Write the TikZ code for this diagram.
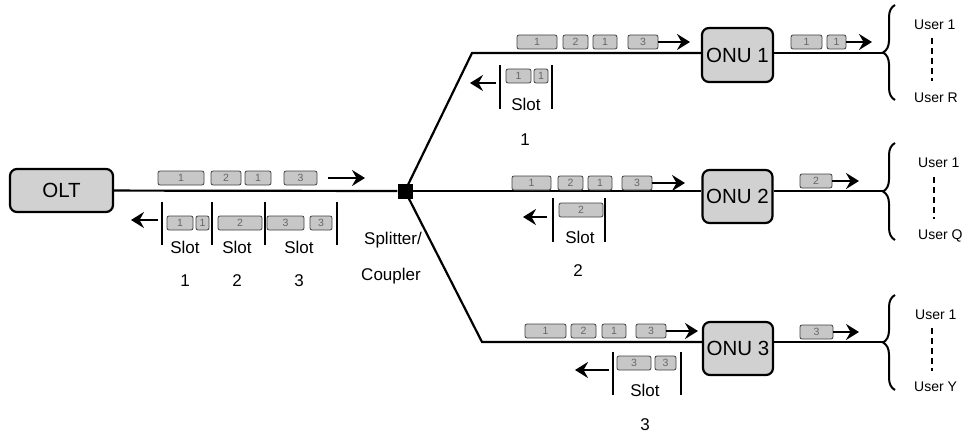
\documentclass[tikz,border=0pt]{standalone}
\usepackage{fontspec}
\setmainfont{Liberation Sans}
\usetikzlibrary{arrows.meta,decorations.pathreplacing}

\tikzset{
  unit/.style={draw, line width=2.2pt, rounded corners=7pt, fill=black!18,
    inner sep=0pt, font=\fontsize{20.5}{20.5}\selectfont},
  fiber/.style={line width=2.2pt},
  pkt/.style={draw=black!75, line width=0.8pt, rounded corners=2pt, fill=black!22,
    minimum height=14pt, inner sep=0pt, text=black!60,
    font=\fontsize{10.5}{10.5}\selectfont},
  slotbar/.style={line width=2.2pt},
  flow/.style={line width=2.2pt, -{Stealth[length=13pt,width=16pt,inset=4.5pt]}},
  lbl/.style={inner sep=0pt, font=\fontsize{17}{17}\selectfont},
  usr/.style={inner sep=0pt, anchor=west, font=\fontsize{14}{14}\selectfont},
  usrdash/.style={line width=2.8pt, dash pattern=on 6pt off 4pt},
  grp/.style={line width=2pt, decorate, decoration={brace, amplitude=12pt}}
}

\begin{document}
\begin{tikzpicture}[x=1pt,y=-1pt]
\useasboundingbox (0,0) rectangle (962,436);

% terminals
\node[unit, minimum width=103pt, minimum height=43pt] (olt) at (61.5,190.5) {OLT};
\node[unit, minimum width=71pt, minimum height=54pt] (onu1) at (737.5,55) {ONU 1};
\node[unit, minimum width=70pt, minimum height=53pt] (onu2) at (737.5,196.5) {ONU 2};
\node[unit, minimum width=70pt, minimum height=53pt] (onu3) at (738,348.5) {ONU 3};

% passive splitter
\node[fill=black, minimum size=15pt, inner sep=0pt] (sp) at (405,191) {};
\node[lbl] (spl) at (393,240) {Splitter/};
\node[lbl] (cpl) at (391,276) {Coupler};

% branch corners and brace tips
\coordinate (c1) at (472,53);
\coordinate (c3) at (482,342);
\coordinate (t1) at (883,53);
\coordinate (t2) at (883,191);
\coordinate (t3) at (883,342);

% fibres
\draw[fiber] (olt) -- (sp);
\draw[fiber] (sp.center) -- (c1) -- (c1 -| onu1.west);
\draw[fiber] (sp) -- (sp -| onu2.west);
\draw[fiber] (sp.center) -- (c3) -- (c3 -| onu3.west);
\draw[fiber] (c1 -| onu1.east) -- (t1);
\draw[fiber] (t2 -| onu2.east) -- (t2);
\draw[fiber] (c3 -| onu3.east) -- (t3);

% ---- feeder: downstream frame
\node[pkt, minimum width=46pt] (m1) at (181,178) {1};
\node[pkt, minimum width=30pt] (m2) at (226,178) {2};
\node[pkt, minimum width=26pt] (m3) at (258,178) {1};
\node[pkt, minimum width=33pt] (m4) at (300.5,178) {3};
\coordinate (ma0) at (328,178);
\coordinate (ma1) at (365,178);
\draw[flow] (ma0) -- (ma1);

% ---- feeder: upstream slots
\coordinate (ua0) at (158,220);
\coordinate (ua1) at (131,220);
\draw[flow] (ua0) -- (ua1);
\foreach \x in {162,212,265,337} \draw[slotbar] (\x,202) -- (\x,245);
\node[pkt, minimum width=26pt] (u1) at (180,223) {1};
\node[pkt, minimum width=13pt] (u2) at (202.5,223) {1};
\node[pkt, minimum width=44pt] (u3) at (240,223) {2};
\node[pkt, minimum width=37pt] (u4) at (285.5,223) {3};
\node[pkt, minimum width=22pt] (u5) at (321,223) {3};
\node[lbl] (s1) at (185,247) {Slot};
\node[lbl] (s2) at (237,247) {Slot};
\node[lbl] (s3) at (299,247) {Slot};
\node[lbl] (n1) at (185,281) {1};
\node[lbl] (n2) at (237,281) {2};
\node[lbl] (n3) at (299,281) {3};

% ---- branch 1
\node[pkt, minimum width=40pt] (a1) at (537,42) {1};
\node[pkt, minimum width=25pt] (a2) at (575.5,42) {2};
\node[pkt, minimum width=24pt] (a3) at (605,42) {1};
\node[pkt, minimum width=30pt] (a4) at (643,42) {3};
\coordinate (aa) at (690,42);
\draw[flow] (a4.east) -- (aa);
\coordinate (ab0) at (496,83);
\coordinate (ab1) at (470,83);
\draw[flow] (ab0) -- (ab1);
\foreach \x in {500,552} \draw[slotbar] (\x,65) -- (\x,109);
\node[pkt, minimum width=25pt] (a5) at (518.5,76) {1};
\node[pkt, minimum width=14pt] (a6) at (541,76) {1};
\node[lbl] (as) at (526,104) {Slot};
\node[lbl] (an) at (525,140) {1};

% ---- branch 2
\node[pkt, minimum width=39pt] (b1) at (531.5,183) {1};
\node[pkt, minimum width=25pt] (b2) at (570.5,183) {2};
\node[pkt, minimum width=24pt] (b3) at (600,183) {1};
\node[pkt, minimum width=30pt] (b4) at (637,183) {3};
\coordinate (ba) at (685,183);
\draw[flow] (b4.east) -- (ba);
\coordinate (bb0) at (547,217);
\coordinate (bb1) at (523,217);
\draw[flow] (bb0) -- (bb1);
\foreach \x in {553,605} \draw[slotbar] (\x,198) -- (\x,242);
\node[pkt, minimum width=44pt] (b5) at (581,210) {2};
\node[lbl] (bs) at (580,237) {Slot};
\node[lbl] (bn) at (578,271) {2};

% ---- branch 3
\node[pkt, minimum width=41pt] (d1) at (545.5,331) {1};
\node[pkt, minimum width=25pt] (d2) at (583.5,331) {2};
\node[pkt, minimum width=24pt] (d3) at (614,331) {1};
\node[pkt, minimum width=30pt] (d4) at (651,331) {3};
\coordinate (da) at (698,331);
\draw[flow] (d4.east) -- (da);
\coordinate (db0) at (609,370);
\coordinate (db1) at (575,370);
\draw[flow] (db0) -- (db1);
\foreach \x in {613,681} \draw[slotbar] (\x,352) -- (\x,395);
\node[pkt, minimum width=34pt] (d5) at (634,363) {3};
\node[pkt, minimum width=21pt] (d6) at (665.5,363) {3};
\node[lbl] (ds) at (645,390) {Slot};
\node[lbl] (dn) at (645,425) {3};

% ---- drop side
\node[pkt, minimum width=31pt] (e1) at (806.5,42) {1};
\node[pkt, minimum width=19pt] (e2) at (836.5,42) {1};
\coordinate (ea) at (872,42);
\draw[flow] (e2.east) -- (ea);
\node[pkt, minimum width=32pt] (f1) at (816,181) {2};
\coordinate (fa) at (859,181);
\draw[flow] (f1.east) -- (fa);
\node[pkt, minimum width=33pt] (g1) at (816.5,332) {3};
\coordinate (ga) at (859,332);
\draw[flow] (g1.east) -- (ga);

% user groups
\draw[grp] (895,100) -- (895,5);
\draw[grp] (895,240) -- (895,143);
\draw[grp] (895,390) -- (895,295);

\node[usr] (r1) at (914,25) {User 1};
\node[usr] (r2) at (914,98) {User R};
\draw[usrdash] (932,38) -- (932,81);
\node[usr] (q1) at (918,163) {User 1};
\node[usr] (q2) at (918,236) {User Q};
\draw[usrdash] (934,177) -- (934,219);
\node[usr] (y1) at (915,315) {User 1};
\node[usr] (y2) at (914,387) {User Y};
\draw[usrdash] (932,328) -- (932,371);
\end{tikzpicture}
\end{document}
